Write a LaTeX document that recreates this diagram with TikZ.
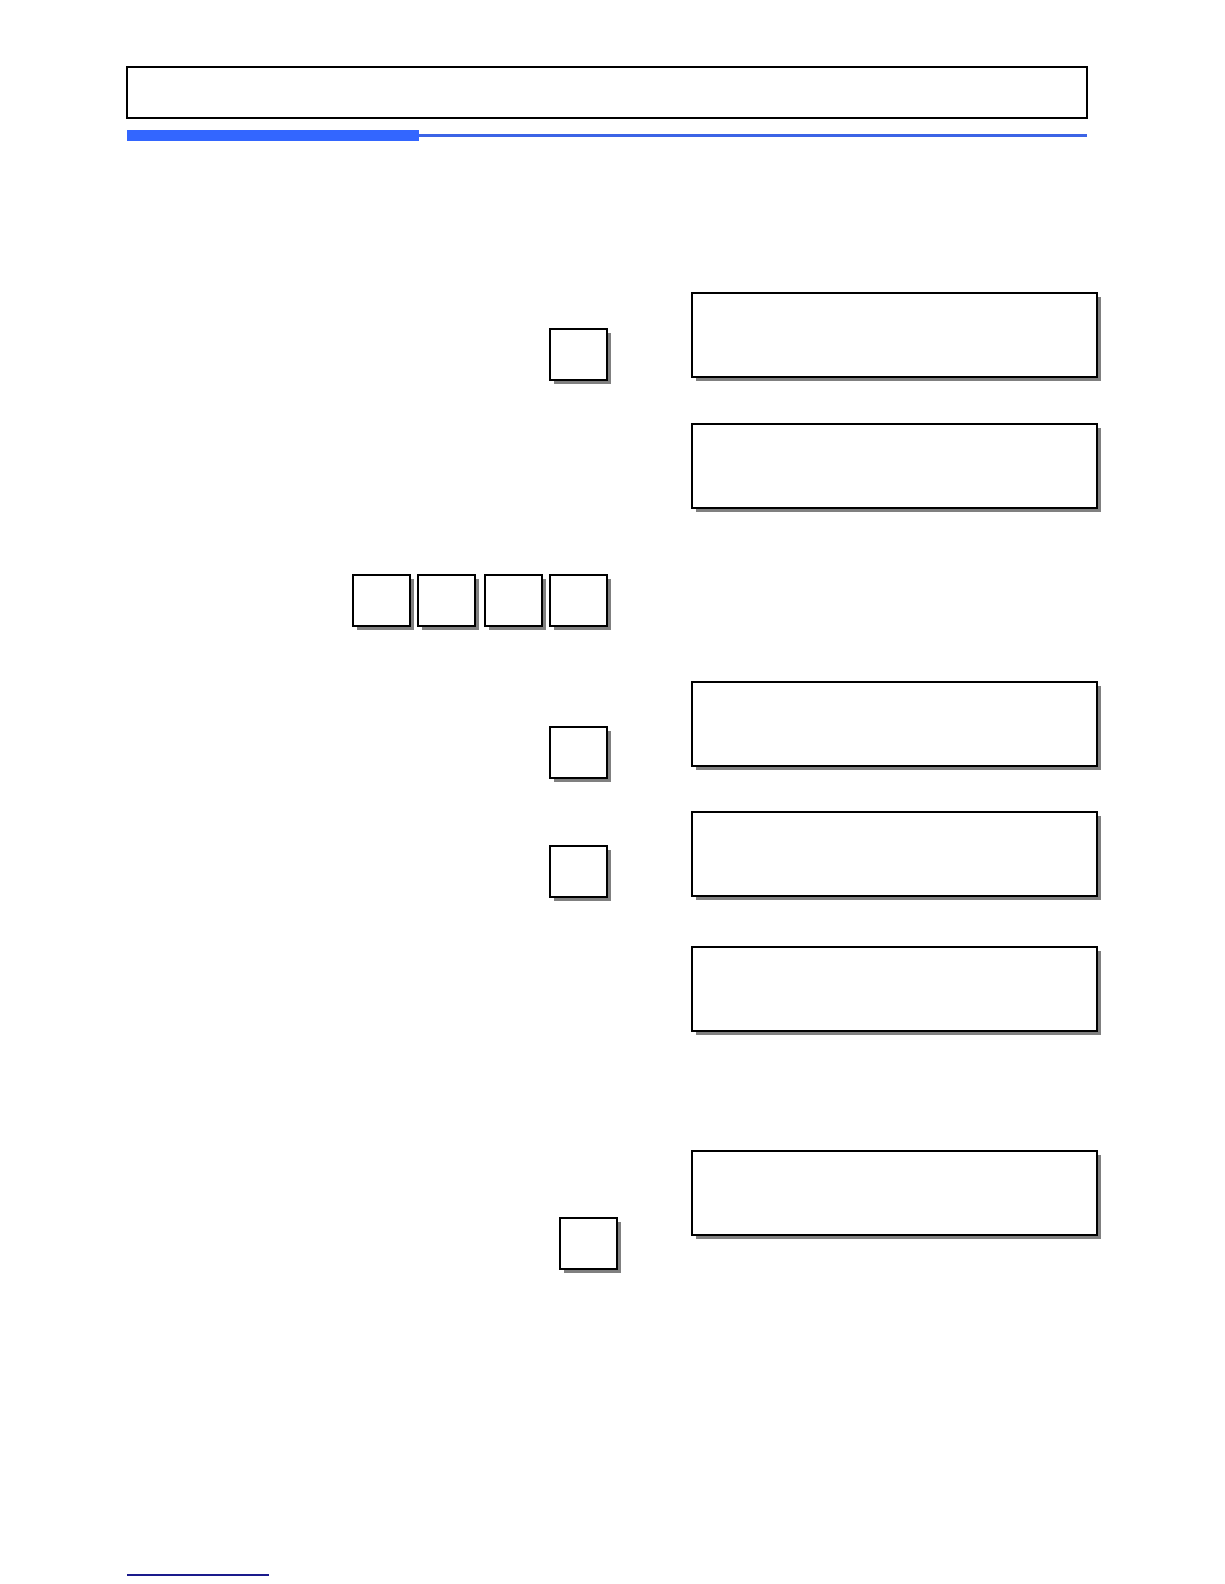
\documentclass[tikz,border=0pt]{standalone}
\usetikzlibrary{shadows}
\definecolor{barblue}{RGB}{51,102,255}
\definecolor{lineblue}{RGB}{60,100,230}
\definecolor{navy}{RGB}{26,26,140}
\definecolor{shadowgray}{RGB}{128,128,128}
\tikzset{
  keybox/.style={draw=black, line width=2pt, fill=white, rectangle, inner sep=0pt, outer sep=0pt,
    anchor=north west, minimum width=57pt, minimum height=51pt,
    drop shadow={shadow xshift=4pt, shadow yshift=-4pt, fill=shadowgray, opacity=1}},
  dispbox/.style={draw=black, line width=2pt, fill=white, rectangle, inner sep=0pt, outer sep=0pt,
    anchor=north west, minimum width=405pt, minimum height=84pt,
    drop shadow={shadow xshift=4pt, shadow yshift=-4pt, fill=shadowgray, opacity=1}},
  headbox/.style={draw=black, line width=1.6pt, rectangle, inner sep=0pt, outer sep=0pt,
    anchor=north west, minimum width=960pt, minimum height=51pt}
}
\begin{document}
\begin{tikzpicture}[x=1pt, y=-1pt]
\useasboundingbox (0,0) rectangle (1224,1584);
% header
\node[headbox] (head) at (127,67) {};
\fill[barblue] (127,130) rectangle (419,141);
\coordinate (thinA) at (419,135.5);
\coordinate (thinB) at (1087,135.5);
\draw[lineblue, line width=2.5pt] (thinA) -- (thinB);
% keys
\node[keybox] (k1) at (550,329) {};
\node[keybox] (k2a) at (353,575) {};
\node[keybox] (k2b) at (418,575) {};
\node[keybox] (k2c) at (485,575) {};
\node[keybox] (k2d) at (550,575) {};
\node[keybox] (k3) at (550,727) {};
\node[keybox] (k4) at (550,846) {};
\node[keybox] (k5) at (559.5,1218) {};
% displays
\node[dispbox] (d1) at (692,293) {};
\node[dispbox] (d2) at (692,424) {};
\node[dispbox] (d3) at (692,682) {};
\node[dispbox] (d4) at (692,812) {};
\node[dispbox] (d5) at (692,947) {};
\node[dispbox] (d6) at (692,1151) {};
% footer line
\coordinate (footA) at (127,1575);
\coordinate (footB) at (269,1575);
\draw[navy, line width=1.4pt] (footA) -- (footB);
\end{tikzpicture}
\end{document}
